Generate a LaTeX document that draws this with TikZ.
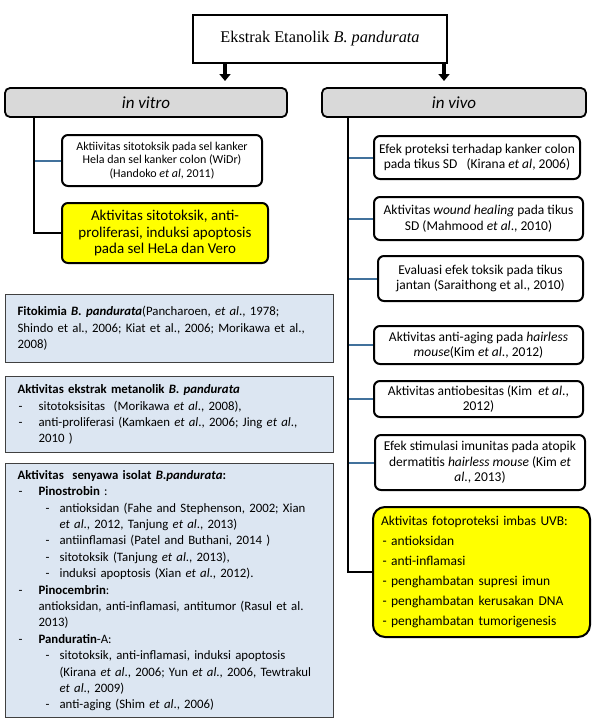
\documentclass[tikz,border=0pt]{standalone}
\usepackage{fontspec}
\setmainfont{Carlito}
\newfontfamily\timesfont{Liberation Serif}
\usetikzlibrary{arrows.meta}
\definecolor{barfill}{HTML}{D9D9D9}
\definecolor{infofill}{HTML}{DCE6F2}
\definecolor{infoline}{HTML}{404040}
\definecolor{linkblue}{HTML}{41719C}
\definecolor{hiyellow}{HTML}{FFFF00}
\newcommand{\lvA}{\hspace*{1pt}\makebox[20pt][l]{-}}
\newcommand{\lvB}{\hspace*{28pt}\makebox[14pt][l]{-}}
\newcommand{\conA}{\hspace*{21pt}}
\newcommand{\conB}{\hspace*{42pt}}
\begin{document}
\begin{tikzpicture}[x=1pt,y=-1pt,
	topbox/.style={draw,line width=2.4pt,minimum width=254pt,minimum height=48pt,font=\timesfont\fontsize{16.3}{19}\selectfont},
	bar/.style={draw,fill=barfill,line width=1.8pt,rounded corners=5pt,minimum height=29pt,font=\itshape\fontsize{17}{20}\selectfont},
	resbox/.style={draw,line width=2pt,rounded corners=6pt,align=center,inner sep=2pt,font=\fontsize{13.5}{15.5}\selectfont},
	hibox/.style={resbox,fill=hiyellow},
	infobox/.style={draw=infoline,fill=infofill,line width=1.2pt,anchor=north west,align=left,inner xsep=12pt,minimum width=328pt,text width=304pt,font=\fontsize{12.8}{16.4}\selectfont},
	trunk/.style={line width=2.4pt},
	link/.style={draw=linkblue,line width=2pt},
	bigarrow/.style={line width=3.5pt,-{Triangle[width=11pt,length=7pt]}}]
	\useasboundingbox (0,0) rectangle (593,725);
	\node[topbox](ekstrak) at (320,39) {Ekstrak Etanolik \textit{B. pandurata}};
	\node[bar,minimum width=282pt](vitro) at (146,102.5) {in vitro};
	\node[bar,minimum width=264pt](vivo) at (454,102.5) {in vivo};
	\coordinate (av) at (225,81);
	\coordinate (aw) at (444,81);
	\draw[bigarrow](ekstrak.south -| av)--(av);
	\draw[bigarrow](ekstrak.south -| aw)--(aw);
	% in vitro
	\node[resbox,font=\fontsize{12}{13.5}\selectfont,minimum width=200pt,minimum height=51pt](widr) at (162,160.5) {Aktiivitas sitotoksik pada sel kanker\\Hela dan sel kanker colon (WiDr)\\(Handoko \textit{et al}, 2011)};
	\node[hibox,font=\fontsize{15}{16.7}\selectfont,minimum width=206pt,minimum height=60pt](hela) at (165,233) {Aktivitas sitotoksik, anti-\\proliferasi, induksi apoptosis\\pada sel HeLa dan Vero};
	\coordinate (tv) at (34,0);
	\draw[link](tv |- widr.west)--(widr.west);
	\draw[trunk](vitro.south -| tv)|-(hela.west);
	% in vivo
	\node[resbox,minimum width=206pt,minimum height=43pt](kolon) at (477,157.5) {Efek proteksi terhadap kanker colon\\pada tikus SD\ \ \ (Kirana \textit{et al}, 2006)};
	\node[resbox,minimum width=209pt,minimum height=43pt](luka) at (478.5,218.5) {Aktivitas \textit{wound healing} pada tikus\\SD (Mahmood \textit{et al}., 2010)};
	\node[resbox,minimum width=205pt,minimum height=45pt](toksik) at (480.5,278.5) {Evaluasi efek toksik pada tikus\\jantan (Saraithong et al., 2010)};
	\node[resbox,minimum width=209pt,minimum height=38pt](aging) at (478.5,345) {Aktivitas anti-aging pada \textit{hairless}\\\textit{mouse}(Kim \textit{et al}., 2012)};
	\node[resbox,minimum width=209pt,minimum height=36pt](obes) at (478.5,399) {Aktivitas antiobesitas (Kim\ \ \textit{et al}.,\\2012)};
	\node[resbox,minimum width=210pt,minimum height=55pt](imun) at (480,462.5) {Efek stimulasi imunitas pada atopik\\dermatitis \textit{hairless mouse} (Kim \textit{et}\\\textit{al}., 2013)};
	\node[hibox,rounded corners=12pt,align=left,inner xsep=8pt,font=\fontsize{13.5}{20}\selectfont,minimum width=217pt,minimum height=130pt,text width=201pt](uvb) at (481.5,572) {Aktivitas fotoproteksi imbas UVB:\\
		\hspace*{1.5pt}- antioksidan\\
		\hspace*{1.5pt}- anti-inflamasi\\
		\hspace*{1.5pt}- penghambatan supresi imun\\
		\hspace*{1.5pt}- penghambatan kerusakan DNA\\
		\hspace*{1.5pt}- penghambatan tumorigenesis};
	\coordinate (tw) at (348,0);
	\foreach \b in {kolon,luka,toksik,aging,obes,imun}
		\draw[link](tw |- \b.west)--(\b.west);
	\draw[trunk](vivo.south -| tw)|-(uvb.west);
	% kajian pustaka
	\node[infobox,minimum height=68pt](fito) at (5,294) {\textbf{Fitokimia \textit{B. pandurata}}(Pancharoen, \textit{et al}., 1978;\\Shindo et al., 2006; Kiat et al., 2006; Morikawa et al.,\\2008)};
	\node[infobox,minimum height=76pt](metanol) at (5,376) {\textbf{Aktivitas ekstrak metanolik \textit{B. pandurata}}\\
		\lvA sitotoksisitas\ \ (Morikawa \textit{et al}., 2008),\\
		\lvA anti-proliferasi (Kamkaen \textit{et al}., 2006; Jing \textit{et al}.,\\
		\conA 2010 )};
	\node[infobox,minimum height=254pt](isolat) at (5,463) {\textbf{Aktivitas\ \ senyawa isolat \textit{B.pandurata}:}\\
		\lvA\textbf{Pinostrobin} :\\
		\lvB antioksidan (Fahe and Stephenson, 2002; Xian\\
		\conB\textit{et al}., 2012, Tanjung \textit{et al}., 2013)\\
		\lvB antiinflamasi (Patel and Buthani, 2014 )\\
		\lvB sitotoksik (Tanjung \textit{et al}., 2013),\\
		\lvB induksi apoptosis (Xian \textit{et al}., 2012).\\
		\lvA\textbf{Pinocembrin}:\\
		\conA antioksidan, anti-inflamasi, antitumor (Rasul et al.\\
		\conA 2013)\\
		\lvA\textbf{Panduratin}-A:\\
		\lvB sitotoksik, anti-inflamasi, induksi apoptosis\\
		\conB(Kirana \textit{et al}., 2006; Yun \textit{et al}., 2006, Tewtrakul\\
		\conB\textit{et al}., 2009)\\
		\lvB anti-aging (Shim \textit{et al}., 2006)};
\end{tikzpicture}
\end{document}
